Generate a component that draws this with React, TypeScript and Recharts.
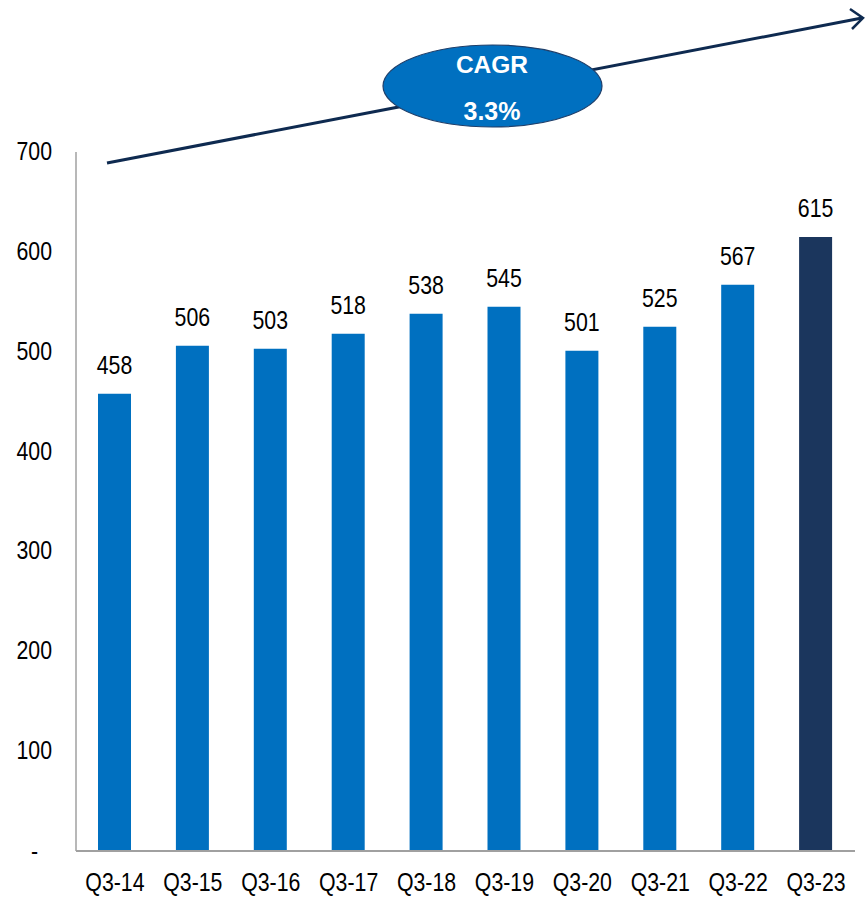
import React from "react";
import { BarChart, Bar, XAxis, YAxis, Cell, LabelList, Customized } from "recharts";

const categories = ["Q3-14", "Q3-15", "Q3-16", "Q3-17", "Q3-18", "Q3-19", "Q3-20", "Q3-21", "Q3-22", "Q3-23"];
const values = [458, 506, 503, 518, 538, 545, 501, 525, 567, 615];
const yTicks = [0, 100, 200, 300, 400, 500, 600, 700];
const cagrTitle = "CAGR";
const cagrValue = "3.3%";

const data = categories.map((c, i) => ({ name: c, value: values[i] }));

const FONT = "'Liberation Sans', Arial, sans-serif";
const FS = 26;
const SX = 0.82;
const BLUE = "#0070C0";
const NAVY = "#1B365D";

const NarrowText = ({ x, y, anchor, children }: any) => (
  <text
    transform={`translate(${x},${y}) scale(${SX},1)`}
    x={0}
    y={0}
    textAnchor={anchor}
    fontSize={FS}
    fontFamily={FONT}
    fill="#000"
  >
    {children}
  </text>
);

const YTick = (props: any) => {
  const { x, y, payload } = props;
  const v = payload.value;
  if (v === 0) {
    return <NarrowText x={x - 14} y={y + 9} anchor="end">-</NarrowText>;
  }
  return <NarrowText x={x} y={y + 8} anchor="end">{v}</NarrowText>;
};

const XTick = (props: any) => {
  const { x, y, payload } = props;
  return <NarrowText x={x} y={y + 40} anchor="middle">{payload.value}</NarrowText>;
};

const BarLabel = (props: any) => {
  const { x, y, width, value } = props;
  return <NarrowText x={x + width / 2} y={y - 20} anchor="middle">{value}</NarrowText>;
};

const Annotation = () => (
  <g>
    <line x1={107} y1={163} x2={862} y2={18} stroke="#0E2A50" strokeWidth={3} />
    <polyline points="850,9 863,18 852,29" fill="none" stroke="#0E2A50" strokeWidth={2.5} />
    <ellipse cx={492.5} cy={86} rx={109.5} ry={41} fill={BLUE} stroke="#1F3F6A" strokeWidth={1.2} />
    <text x={492} y={73} textAnchor="middle" fontSize={24.5} fontWeight="bold" fontFamily={FONT} fill="#fff">
      {cagrTitle}
    </text>
    <text x={492} y={120} textAnchor="middle" fontSize={25} fontWeight="bold" fontFamily={FONT} fill="#fff">
      {cagrValue}
    </text>
  </g>
);

export default function App() {
  return (
    <div style={{ position: "absolute", left: 0, top: 0, width: 866, height: 897, background: "#fff" }}>
      <BarChart width={866} height={897} data={data} margin={{ top: 152, right: 11, bottom: 0, left: 0 }}>
        <XAxis
          dataKey="name"
          height={46}
          tickSize={0}
          tickMargin={0}
          axisLine={{ stroke: "#A0A0A0", strokeWidth: 2 }}
          tick={<XTick />}
          interval={0}
        />
        <YAxis
          width={76}
          domain={[0, 700]}
          ticks={yTicks}
          tickSize={0}
          tickMargin={24}
          axisLine={{ stroke: "#A0A0A0", strokeWidth: 1.5 }}
          tick={<YTick />}
          interval={0}
        />
        <Bar dataKey="value" barSize={33} isAnimationActive={false}>
          {data.map((d, i) => (
            <Cell key={d.name} fill={i === data.length - 1 ? NAVY : BLUE} />
          ))}
          <LabelList dataKey="value" content={<BarLabel />} />
        </Bar>
        <Customized component={Annotation} />
      </BarChart>
    </div>
  );
}
